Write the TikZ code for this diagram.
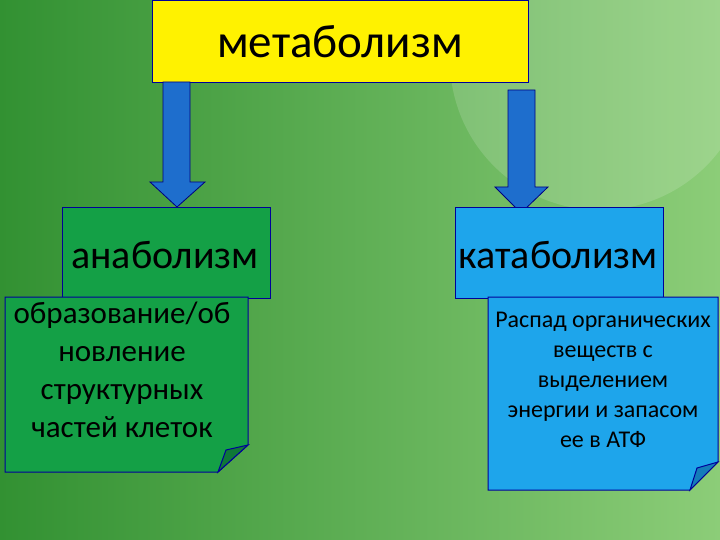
\documentclass[tikz,border=0pt]{standalone}
\usepackage{fontspec}
\setmainfont{Carlito}
\begin{document}
\begin{tikzpicture}[x=1pt,y=-1pt,
 box/.style={draw=blue!60!black,line width=1pt},
 arr/.style={fill={rgb,255:red,30;green,110;blue,205},draw=blue!50!black,line width=0.8pt},
 txt/.style={align=center,font=\fontsize{31}{38}\selectfont}]
\useasboundingbox (0,0) rectangle (720,540);
\begin{scope}
\clip (0,0) rectangle (720,540);
\shade[left color={rgb,255:red,50;green,145;blue,50},right color={rgb,255:red,140;green,205;blue,120}] (0,0) rectangle (720,540);
\fill[white,opacity=0.15] (600,60) circle (150);
\end{scope}
% top
\node[box,fill=yellow,minimum width=376pt,minimum height=82pt,anchor=north west,inner sep=0] (m) at (152,0) {};
\node[font=\fontsize{47}{52}\selectfont] (mt) at (340,42) {метаболизм};
% arrows
\draw[arr] (163,82) -- (190,82) -- (190,182) -- (205,182) -- (177,207) -- (150,182) -- (163,182) -- cycle;
\draw[arr] (508,90) -- (535,90) -- (535,187) -- (548,187) -- (521,213) -- (495,187) -- (508,187) -- cycle;
% anabolism
\node[box,fill={rgb,255:red,20;green,160;blue,70},minimum width=208pt,minimum height=91pt,anchor=north west,inner sep=0] (a) at (62,207) {};
\node[font=\fontsize{40}{46}\selectfont] (at) at (165,255) {анаболизм};
\draw[box,fill={rgb,255:red,20;green,160;blue,70}] (5,297) -- (248,297) -- (248,445) -- (218,472) -- (5,472) -- cycle;
\draw[box,fill={rgb,255:red,15;green,120;blue,55}] (218,472) -- (226,450) -- (248,445) -- cycle;
\node[txt] (ad) at (122,370) {образование/об\\новление\\структурных\\частей клеток};
% catabolism
\node[box,fill={rgb,255:red,30;green,165;blue,235},minimum width=208pt,minimum height=91pt,anchor=north west,inner sep=0] (c) at (455,207) {};
\node[font=\fontsize{40}{46}\selectfont] (ct) at (558,255) {катаболизм};
\draw[box,fill={rgb,255:red,30;green,165;blue,235}] (488,297) -- (718,297) -- (718,462) -- (690,490) -- (488,490) -- cycle;
\draw[box,fill={rgb,255:red,20;green,125;blue,185}] (690,490) -- (697,468) -- (718,462) -- cycle;
\node[txt,font=\fontsize{24}{30}\selectfont] (cd) at (603,380) {Распад органических\\веществ с\\выделением\\энергии и запасом\\ее в АТФ};
\end{tikzpicture}
\end{document}
